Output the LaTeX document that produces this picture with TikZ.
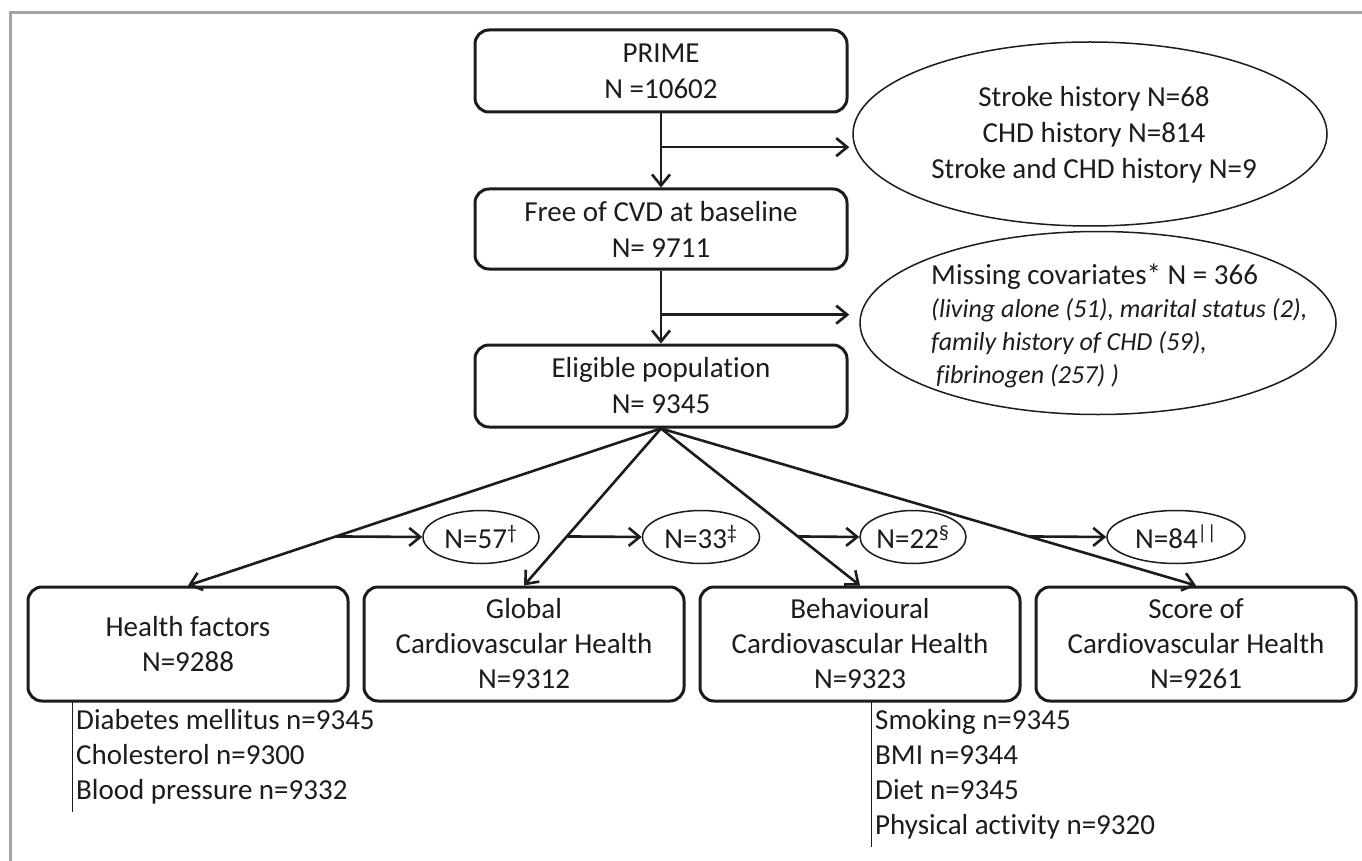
\documentclass[tikz,border=0pt]{standalone}
\usepackage{fontspec}
\setmainfont{Carlito}[Ligatures={NoCommon}]
\usetikzlibrary{arrows.meta,shapes.geometric,calc}
\definecolor{ink}{HTML}{1E1B1C}
\definecolor{framegray}{HTML}{A3A3A3}
\begin{document}
\begin{tikzpicture}[x=1pt,y=-1pt,
  every node/.style={text=ink},
  mainbox/.style={draw=ink, line width=3pt, rounded corners=14pt, minimum width=372pt, minimum height=82pt, align=center, inner sep=0pt, font=\fontsize{29}{36}\selectfont},
  subbox/.style={draw=ink, line width=3pt, rounded corners=14pt, minimum width=320pt, minimum height=114pt, align=center, inner sep=0pt, font=\fontsize{29}{35}\selectfont},
  bigell/.style={draw=ink, line width=1.5pt, ellipse, inner sep=0pt},
  smallell/.style={draw=ink, line width=1.5pt, ellipse, inner sep=0pt, minimum height=53pt, font=\fontsize{29}{34}\selectfont},
  arr/.style={draw=ink, line width=2.6pt, -{Straight Barb[length=11pt,width=18pt]}},
  listline/.style={draw=ink, line width=1pt},
  listtext/.style={anchor=west, align=left, inner sep=0pt, font=\fontsize{29}{35}\selectfont},
]
\useasboundingbox (0,0) rectangle (1362,861);
\fill[white] (0,0) rectangle (1362,861);
% frame
\draw[framegray, line width=3pt] (1375,13) -- (10,13) -- (10,875);

% main boxes
\node[mainbox] (prime) at (661,71) {PRIME\\N =10602};
\node[mainbox, minimum height=80pt] (free) at (661,229) {Free of CVD at baseline\\N= 9711};
\node[mainbox] (elig) at (661,386) {Eligible population\\N= 9345};

% exclusion ellipses
\node[bigell, minimum width=474pt, minimum height=184pt] (e1) at (1090,134) {};
\node[align=center, inner sep=0pt, font=\fontsize{29}{36}\selectfont] (e1t) at (1094,135) {Stroke history N=68\\CHD history N=814\\Stroke and CHD history N=9};
\node[bigell, minimum width=476pt, minimum height=183pt] (e2) at (1098,323) {};
\node[anchor=north west, align=left, inner sep=0pt, font=\fontsize{26}{33}\selectfont\itshape] (e2t) at (931,264) {{\fontsize{29}{35}\selectfont\upshape Missing covariates* N = 366}\\(living alone (51), marital status (2),\\family history of CHD (59),\\\hspace{5pt}fibrinogen (257) )};

% trunk arrows
\draw[arr] (prime.south) -- (free.north);
\draw[arr] (free.south) -- (elig.north);
\coordinate (b1) at ($(prime.south)!0.4545!(free.north)$);
\coordinate (b2) at ($(free.south)!0.605!(elig.north)$);
\draw[arr] (b1) -- ([xshift=-3pt]b1 -| e1.west);
\draw[arr] (b2) -- ([xshift=-10pt]b2 -| e2.west);

% bottom boxes
\node[subbox] (hf) at (188,644) {Health factors\\N=9288};
\node[subbox] (gc) at (524,644) {Global\\Cardiovascular Health\\N=9312};
\node[subbox] (bc) at (860,644) {Behavioural\\Cardiovascular Health\\N=9323};
\node[subbox] (sc) at (1196,644) {Score of\\Cardiovascular Health\\N=9261};

% fan arrows
\draw[arr] (elig.south) -- (hf.north);
\draw[arr] (elig.south) -- (gc.north);
\draw[arr] (elig.south) -- (bc.north);
\draw[arr] (elig.south) -- (sc.north);

% small ellipses
\node[smallell, minimum width=116pt] (s1) at (481,537) {N=57\textsuperscript{†}};
\node[smallell, minimum width=117pt] (s2) at (701,537) {N=33\textsuperscript{‡}};
\node[smallell, minimum width=106pt] (s3) at (913,537) {N=22\textsuperscript{§}};
\node[smallell, minimum width=138pt] (s4) at (1176,537) {N=84\textsuperscript{||}};

\coordinate (c1) at ($(elig.south)!0.6875!(hf.north)$);
\coordinate (c2) at ($(elig.south)!0.6875!(gc.north)$);
\coordinate (c3) at ($(elig.south)!0.6875!(bc.north)$);
\coordinate (c4) at ($(elig.south)!0.6875!(sc.north)$);
\draw[arr] (c1) -- (s1.west);
\draw[arr] (c2) -- (s2.west);
\draw[arr] (c3) -- (s3.west);
\draw[arr] (c4) -- (s4.west);

% lists
\coordinate (l1top) at (72,701);
\coordinate (l1bot) at (72,812);
\draw[listline] (l1top) -- (l1bot);
\node[listtext] (l1) at (76,757) {Diabetes mellitus n=9345\\Cholesterol n=9300\\Blood pressure n=9332};
\coordinate (l2top) at (871,701);
\coordinate (l2bot) at (871,847);
\draw[listline] (l2top) -- (l2bot);
\node[listtext] (l2) at (875,774.5) {Smoking n=9345\\BMI n=9344\\Diet n=9345\\Physical activity n=9320};
\end{tikzpicture}
\end{document}
